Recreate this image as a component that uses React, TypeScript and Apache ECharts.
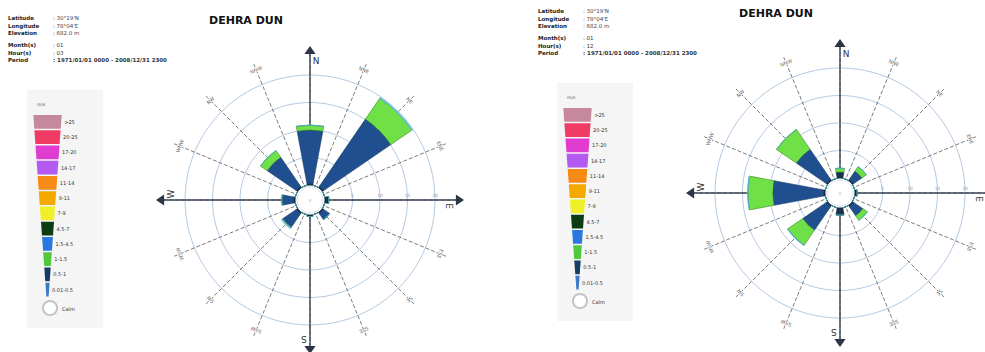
import React, { useEffect, useRef } from "react";
import * as echarts from "echarts";

// ---------- data ----------
const DIRECTIONS = ["N", "NNE", "NE", "ENE", "E", "ESE", "SE", "SSE", "S", "SSW", "SW", "WSW", "W", "WNW", "NW", "NNW"];
const LEGEND_BINS = [">25", "20-25", "17-20", "14-17", "11-14", "9-11", "7-9", "4.5-7", "1.5-4.5", "1-1.5", "0.5-1", "0.01-0.5"];
const LEGEND_COLORS = ["#c6889c", "#f03c64", "#e03cd0", "#b45af0", "#f58a14", "#f5a800", "#f0f028", "#0c3c14", "#2878e0", "#50c83c", "#143c64", "#3c78c8"];
const RING_VALUES = [5, 10, 15, 20];
const RING_LABELS = ["5", "10", "15", "20"];

// series bins drawn in the roses (stacked from the centre outward)
const ROSE_BINS = ["0.01-0.5", "0.5-1", "1-1.5", "1.5-4.5"];
const ROSE_COLORS = ["#16324c", "#1f4f8f", "#6fe046", "#7fd8f0"];
const ROSE_BORDERS = ["#0c1c2c", "#163a6a", "#3a8a24", "#4aa8c8"];

// Hour 03 (left)      N    NNE  NE    ENE E    ESE SE   SSE S    SSW SW   WSW W    WNW NW   NNW
const H03_001_05 = [0.3, 0, 0.3, 0, 0.7, 0, 0.3, 0, 0.3, 0, 0.3, 0, 0.3, 0, 0.3, 0];
const H03_05_1 = [9.7, 0, 14.8, 0, 0, 0, 1.3, 0, 0, 0, 3.0, 0, 2.1, 0, 6.4, 0];
const H03_1_15 = [0.9, 0, 4.6, 0, 0, 0, 0, 0, 0, 0, 0.1, 0, 0, 0, 1.5, 0];
const H03_15_45 = [0, 0, 0.2, 0, 0, 0, 0, 0, 0, 0, 0.2, 0, 0, 0, 0, 0];

// Hour 12 (right)
const H12_001_05 = [1.1, 0, 0.3, 0, 0.4, 0, 0.3, 0, 1.3, 0, 0.3, 0, 0.3, 0, 0.3, 0];
const H12_05_1 = [0, 0, 1.8, 0, 0, 0, 2.0, 0, 0, 0, 5.2, 0, 9.2, 0, 6.6, 0];
const H12_1_15 = [0.7, 0, 1.0, 0, 0, 0, 1.0, 0, 0, 0, 3.3, 0, 4.5, 0, 4.4, 0];
const H12_15_45 = [0, 0, 0, 0, 0, 0, 0, 0, 0, 0, 0.1, 0, 0.1, 0, 0, 0];

const PANELS = [
  { hour: "03", dx: 0, dy: 0, bins: [H03_001_05, H03_05_1, H03_1_15, H03_15_45] },
  { hour: "12", dx: 530, dy: -7, bins: [H12_001_05, H12_05_1, H12_1_15, H12_15_45] },
];

const INFO_ROWS = [
  ["Latitude", ": 30°19'N"],
  ["Longitude", ": 78°04'E"],
  ["Elevation", ": 682.0 m"],
];
const PERIOD = ": 1971/01/01 0000 - 2008/12/31 2300";
const TITLE = "DEHRA DUN";

// ---------- geometry ----------
const CX = 310;
const CY = 200;
const R_IN = 15;
const R_OUT = 125;
const R_SPOKE = 147;
const R_MAX = 20;
const FONT = "DejaVu Sans";

function pt(cx: number, cy: number, r: number, deg: number): [number, number] {
  const a = (deg * Math.PI) / 180;
  return [cx + r * Math.sin(a), cy - r * Math.cos(a)];
}

function panelGraphics(p: typeof PANELS[number]) {
  const els: any[] = [];
  const dx = p.dx, dy = p.dy;
  const cx = CX + dx, cy = CY + dy;

  // info block
  const rowsY = [18, 26, 33];
  INFO_ROWS.forEach((r, i) => {
    els.push({ type: "text", z: 5, style: { text: r[0], x: 8 + dx, y: rowsY[i] + dy, fill: "#222", font: `bold 5.5px ${FONT}`, textVerticalAlign: "middle" } });
    els.push({ type: "text", z: 5, style: { text: r[1], x: 53 + dx, y: rowsY[i] + dy, fill: "#444", font: `5.5px ${FONT}`, textVerticalAlign: "middle" } });
  });
  const rows2: [string, string, number][] = [["Month(s)", ": 01", 45], ["Hour(s)", ": " + p.hour, 53], ["Period", PERIOD, 60]];
  rows2.forEach((r) => {
    els.push({ type: "text", z: 5, style: { text: r[0], x: 8 + dx, y: r[2] + dy, fill: "#222", font: `bold 5.5px ${FONT}`, textVerticalAlign: "middle" } });
    els.push({ type: "text", z: 5, style: { text: r[1], x: 53 + dx, y: r[2] + dy, fill: "#333", font: `${r[0] === "Period" ? "bold " : ""}5.5px ${FONT}`, textVerticalAlign: "middle" } });
  });

  // title
  els.push({ type: "text", z: 5, style: { text: TITLE, x: 246 + dx, y: 20 + dy, fill: "#111", font: `bold 11px ${FONT}`, textAlign: "center", textVerticalAlign: "middle" } });

  // legend panel
  els.push({ type: "rect", z: 0, shape: { x: 27 + dx, y: 90 + dy, width: 76, height: 238 }, style: { fill: "#f5f5f5" } });
  els.push({ type: "text", z: 5, style: { text: "m/s", x: 37 + dx, y: 104 + dy, fill: "#555", font: `4.5px ${FONT}`, textVerticalAlign: "middle" } });
  const lx = 47.5 + dx;
  const y0 = 115 + dy, y1 = 298 + dy;
  const hw = (y: number) => 14.2 - ((y - y0) * 13.2) / (y1 - y0);
  const bh = (y1 - y0) / LEGEND_BINS.length;
  LEGEND_BINS.forEach((b, i) => {
    const yt = y0 + i * bh;
    const yb = yt + bh - 1.5;
    els.push({
      type: "polygon", z: 3,
      shape: { points: [[lx - hw(yt), yt], [lx + hw(yt), yt], [lx + hw(yb), yb], [lx - hw(yb), yb]] },
      style: { fill: LEGEND_COLORS[i] },
    });
    const ym = (yt + yb) / 2;
    els.push({ type: "text", z: 5, style: { text: b, x: lx + hw(ym) + 3, y: ym, fill: "#333", font: `5px ${FONT}`, textVerticalAlign: "middle" } });
  });
  els.push({ type: "circle", z: 3, shape: { cx: 50 + dx, cy: 308 + dy, r: 7 }, style: { fill: "#fff", stroke: "#c4c4c4", lineWidth: 2 } });
  els.push({ type: "text", z: 5, style: { text: "Calm", x: 62 + dx, y: 309 + dy, fill: "#333", font: `5px ${FONT}`, textVerticalAlign: "middle" } });

  // main axes with arrows
  ["N", "E", "S", "W"].forEach((name, k) => {
    const deg = k * 90;
    const [x1, y1] = pt(cx, cy, R_IN, deg);
    const [x2, y2] = pt(cx, cy, 148, deg);
    els.push({ type: "line", z: 1, shape: { x1, y1, x2, y2 }, style: { stroke: "#3a4656", lineWidth: 1.4 } });
    const tip = pt(cx, cy, 154, deg);
    const bl = pt(cx, cy, 146, deg - 2.2);
    const br = pt(cx, cy, 146, deg + 2.2);
    els.push({ type: "polygon", z: 1, shape: { points: [tip, bl, br] }, style: { fill: "#2a3646" } });
    const [lxp, lyp] = pt(cx, cy, 139, deg);
    const a = (deg * Math.PI) / 180;
    els.push({
      type: "text", z: 5, x: lxp + 6 * Math.cos(a), y: lyp + 6 * Math.sin(a), rotation: -a,
      style: { text: name, x: 0, y: 0, fill: "#333", font: `9px ${FONT}`, textAlign: "center", textVerticalAlign: "middle" },
    });
  });

  // ring value labels along the east axis
  RING_VALUES.forEach((v, i) => {
    const r = R_IN + (v * (R_OUT - R_IN)) / R_MAX;
    els.push({ type: "text", z: 5, style: { text: RING_LABELS[i], x: cx + r, y: cy - 4.5, fill: "#8896a8", font: `4.5px ${FONT}`, textAlign: "center", textVerticalAlign: "middle" } });
  });

  // intermediate direction labels
  DIRECTIONS.forEach((d, i) => {
    if (i % 4 === 0) return;
    const deg = i * 22.5;
    const [x, y] = pt(cx, cy, 141, deg);
    const a = (deg * Math.PI) / 180;
    els.push({
      type: "text", z: 5, x, y, rotation: -a,
      style: { text: d, x: 0, y: 0, fill: "#666", font: `5px ${FONT}`, textAlign: "center", textVerticalAlign: "middle", backgroundColor: "#fff" },
    });
  });

  // calm circle
  els.push({ type: "circle", z: 4, shape: { cx, cy, r: 13 }, style: { fill: "#fff", stroke: "#d8e2ee", lineWidth: 1 } });
  els.push({ type: "text", z: 5, style: { text: "0", x: cx, y: cy, fill: "#aaa", font: `4px ${FONT}`, textAlign: "center", textVerticalAlign: "middle" } });
  return els;
}

function buildOption() {
  const polar: any[] = [];
  const angleAxis: any[] = [];
  const radiusAxis: any[] = [];
  const series: any[] = [];
  PANELS.forEach((p, pi) => {
    const c = [CX + p.dx, CY + p.dy];
    // bars polar
    polar.push({ center: c, radius: [R_IN, R_OUT] });
    angleAxis.push({
      polarIndex: pi * 2, type: "category", data: DIRECTIONS, startAngle: 90 + 11.25, clockwise: true, z: 0,
      axisLine: { show: false }, axisTick: { show: false }, axisLabel: { show: false }, splitLine: { show: false },
    });
    radiusAxis.push({
      polarIndex: pi * 2, type: "value", min: 0, max: R_MAX, interval: 5, z: 0,
      axisLine: { show: false }, axisTick: { show: false }, axisLabel: { show: false },
      splitLine: { show: true, lineStyle: { color: "#a9c3df", width: 0.9 } },
    });
    // spokes polar
    polar.push({ center: c, radius: [R_IN, R_SPOKE] });
    angleAxis.push({
      polarIndex: pi * 2 + 1, type: "value", min: 0, max: 360, interval: 22.5, startAngle: 0, clockwise: true, z: 0,
      axisLine: { show: false }, axisTick: { show: false }, axisLabel: { show: false },
      splitLine: { show: true, lineStyle: { color: "#5a5a5a", width: 0.8, type: [4, 2] } },
    });
    radiusAxis.push({
      polarIndex: pi * 2 + 1, type: "value", min: 0, max: 24, interval: 6, z: 0,
      axisLine: { show: false }, axisTick: { show: false }, splitLine: { show: false }, axisLabel: { show: false },
    });
    ROSE_BINS.forEach((b, bi) => {
      series.push({
        type: "bar", name: b, coordinateSystem: "polar", polarIndex: pi * 2, stack: "p" + pi,
        barCategoryGap: "6%", z: 2,
        itemStyle: { color: ROSE_COLORS[bi], borderColor: ROSE_BORDERS[bi], borderWidth: 0.6 },
        data: p.bins[bi],
      });
    });
  });
  return {
    animation: false,
    backgroundColor: "#ffffff",
    polar, angleAxis, radiusAxis, series,
    graphic: { elements: PANELS.flatMap(panelGraphics) },
  };
}

export default function App() {
  const ref = useRef<HTMLDivElement>(null);
  useEffect(() => {
    if (!ref.current) return;
    const chart = echarts.init(ref.current, null, { renderer: "svg" });
    chart.setOption(buildOption());
    return () => chart.dispose();
  }, []);
  return <div ref={ref} style={{ position: "absolute", left: 0, top: 0, width: 985, height: 352 }} />;
}
